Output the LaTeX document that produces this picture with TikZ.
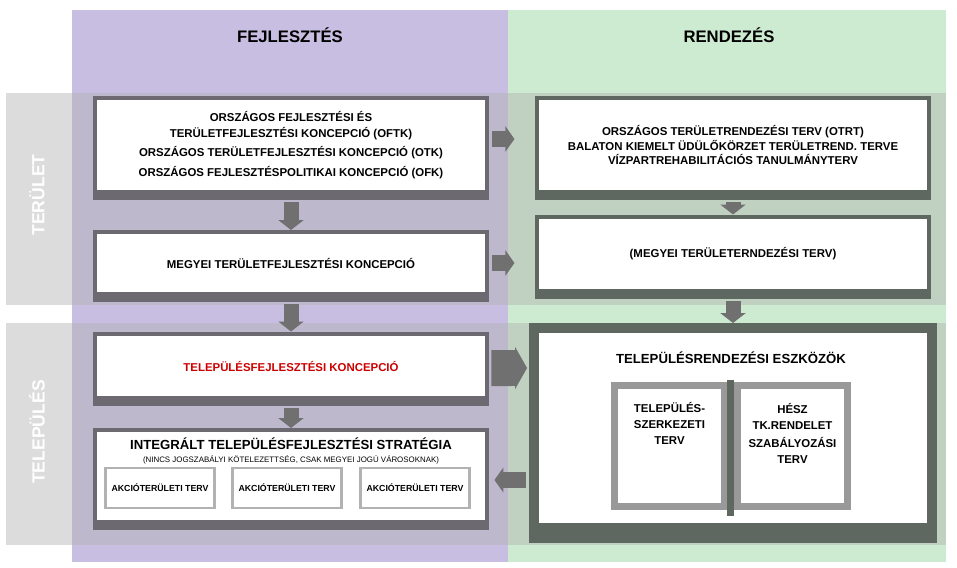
\documentclass[tikz,border=0pt]{standalone}
\usepackage{fontspec}
\setmainfont{Liberation Sans}
\usetikzlibrary{arrows.meta}
\definecolor{fejl}{HTML}{C8BEE2}
\definecolor{rend}{HTML}{CDEBD0}
\definecolor{frameL}{HTML}{6C6A70}
\definecolor{frameR}{HTML}{5F6761}
\definecolor{arrowc}{HTML}{707070}
\tikzset{
  box/.style={fill=white, draw=#1, line width=0.08cm, font=\bfseries\fontsize{6.5}{9}\selectfont, align=center, inner sep=0pt},
  akcio/.style={fill=white, draw=gray!60, line width=0.05cm, font=\bfseries\fontsize{5}{6}\selectfont, minimum width=2.16cm, minimum height=0.8cm},
  page/.style={fill=white, draw=gray!80, line width=0.14cm, font=\bfseries\fontsize{6.5}{9}\selectfont, align=center, minimum width=2.2cm, minimum height=2.44cm},
  down/.style={arrowc, line width=0.3cm, -{Triangle[width=0.5cm,length=0.2cm]}},
  side/.style={arrowc, line width=0.32cm, -{Triangle[width=0.5cm,length=0.18cm]}},
  band/.style={fill=black!30, opacity=0.45}
}
\begin{document}
\begin{tikzpicture}[x=0.02cm,y=-0.02cm]
\useasboundingbox (0,0) rectangle (957,568);
% columns and bands
\fill[fejl] (72,10) rectangle (508,562);
\fill[rend] (508,10) rectangle (946,562);
\fill[band] (6,93) rectangle (946,305);
\fill[band] (6,323) rectangle (946,545);
\node[font=\bfseries\fontsize{9.5}{12}\selectfont] (fh) at (290,35) {FEJLESZTÉS};
\node[font=\bfseries\fontsize{9.5}{12}\selectfont] (rh) at (729,35) {RENDEZÉS};
\node[white, rotate=90, font=\bfseries\fontsize{10}{12}\selectfont] (ter) at (37,195) {TERÜLET};
\node[white, rotate=90, font=\bfseries\fontsize{10}{12}\selectfont] (tel) at (37,432) {TELEPÜLÉS};

% left column
\node[box=frameL, minimum width=7.86cm, minimum height=1.88cm] (oftk) at (291,145) {%
ORSZÁGOS FEJLESZTÉSI ÉS\\TERÜLETFEJLESZTÉSI KONCEPCIÓ (OFTK)\\[2pt]
ORSZÁGOS TERÜLETFEJLESZTÉSI KONCEPCIÓ (OTK)\\[2pt]
ORSZÁGOS FEJLESZTÉSPOLITIKAI KONCEPCIÓ (OFK)};
\node[box=frameL, minimum width=7.86cm, minimum height=1.24cm] (megyei) at (291,263) {MEGYEI TERÜLETFEJLESZTÉSI KONCEPCIÓ};
\node[box=frameL, minimum width=7.86cm, minimum height=1.3cm, text=red!80!black] (tfk) at (291,366) {TELEPÜLÉSFEJLESZTÉSI KONCEPCIÓ};
\node[box=frameL, minimum width=7.86cm, minimum height=1.84cm] (its) at (291,476) {};
\node[font=\bfseries\fontsize{7.5}{9}\selectfont, align=center] (itst) at (291,451) {INTEGRÁLT TELEPÜLÉSFEJLESZTÉSI STRATÉGIA\\[-2pt]
{\mdseries\fontsize{4.5}{5}\selectfont (NINCS JOGSZABÁLYI KÖTELEZETTSÉG, CSAK MEGYEI JOGÚ VÁROSOKNAK)}};
\node[akcio] (a1) at (160,488) {AKCIÓTERÜLETI TERV};
\node[akcio] (a2) at (287,488) {AKCIÓTERÜLETI TERV};
\node[akcio] (a3) at (415,488) {AKCIÓTERÜLETI TERV};
\foreach \b in {oftk,megyei,tfk,its}
  \fill[frameL] ([yshift=0.04cm]\b.south west) rectangle ([yshift=-0.12cm]\b.south east);

% right column
\node[box=frameR, minimum width=7.86cm, minimum height=1.88cm] (otrt) at (733,145) {%
ORSZÁGOS TERÜLETRENDEZÉSI TERV (OTRT)\\[-1pt]
BALATON KIEMELT ÜDÜLŐKÖRZET TERÜLETREND. TERVE\\[-1pt]
VÍZPARTREHABILITÁCIÓS TANULMÁNYTERV};
\node[box=frameR, minimum width=7.86cm, minimum height=1.5cm] (mtrt) at (733,254) {(MEGYEI TERÜLETERNDEZÉSI TERV)};
\node[box=frameR, line width=0.2cm, minimum width=7.96cm, minimum height=4cm] (tre) at (733,428) {};
\foreach \b in {otrt,mtrt}
  \fill[frameR] ([yshift=0.04cm]\b.south west) rectangle ([yshift=-0.12cm]\b.south east);
\fill[frameR] ([yshift=0.1cm]tre.south west) rectangle ([yshift=-0.2cm]tre.south east);
\node[font=\bfseries\fontsize{7.5}{9}\selectfont] (tret) at (731,358) {TELEPÜLÉSRENDEZÉSI ESZKÖZÖK};
\node[page, anchor=east, text depth=0.9cm] (tszt) at (728,446) {TELEPÜLÉS-\\SZERKEZETI\\TERV};
\node[page, anchor=west, text depth=0.5cm] (hesz) at (734,446) {HÉSZ\\TK.RENDELET\\[1pt]SZABÁLYOZÁSI\\TERV};
\fill[frameR] (727,380) rectangle (734,516);

% arrows
\draw[down] (oftk.south) ++(0,8) -- (megyei.north);
\draw[down] (megyei.south) ++(0,8) -- (tfk.north);
\draw[down] (tfk.south) ++(0,8) -- (its.north);
\draw[down] (otrt.south) ++(0,8) -- (mtrt.north);
\draw[down] (mtrt.south) ++(0,8) -- (tre.north);
\draw[side] (oftk.east) ++(3,-6) -- ++(22,0);
\draw[side] (megyei.east) ++(3,0) -- ++(22,0);
\draw[side, line width=0.72cm, -{Triangle[width=0.84cm,length=0.24cm]}] (tfk.east) ++(2,2) -- ([xshift=-0.04cm,yshift=-0.04cm]tre.west |- tfk.east);
\draw[side] ([xshift=-0.06cm,yshift=-0.08cm]tre.west |- its.east) -- ([xshift=0.1cm,yshift=-0.08cm]its.east);
\end{tikzpicture}
\end{document}
